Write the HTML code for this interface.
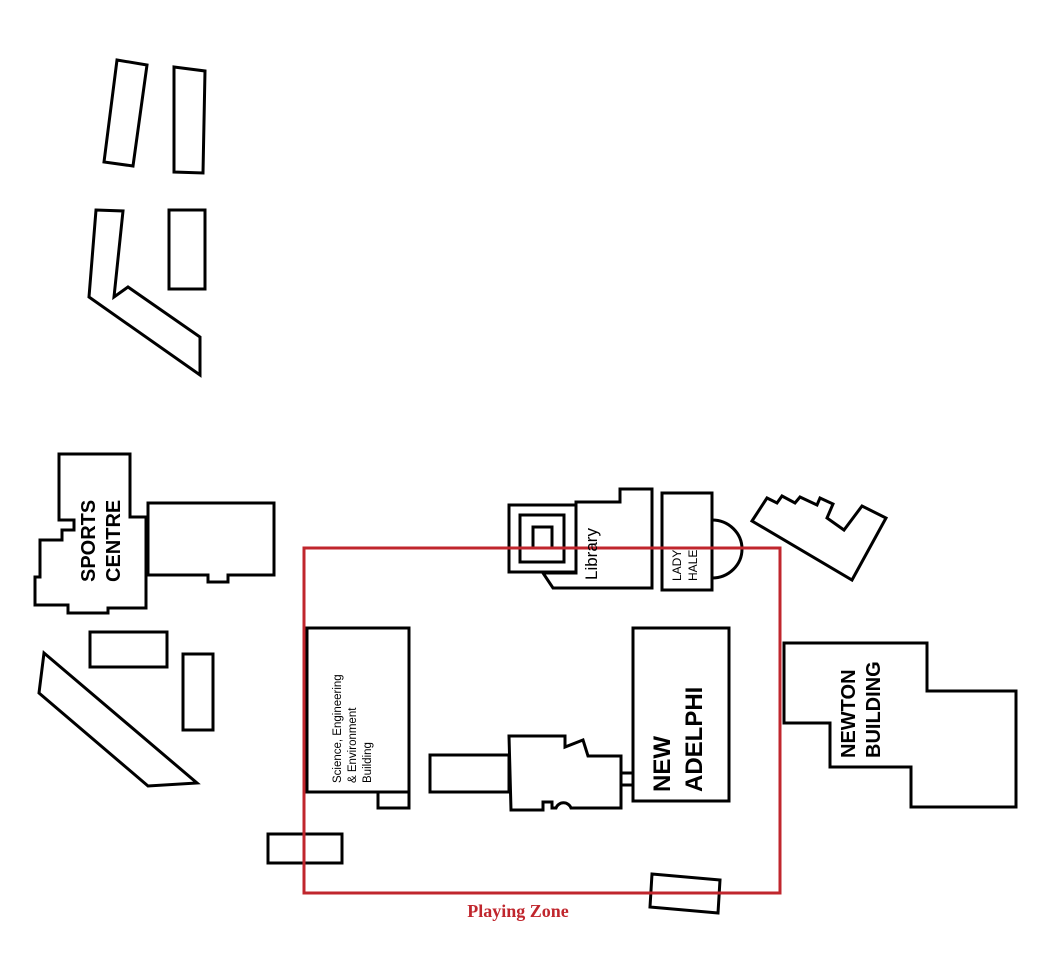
<!DOCTYPE html>
<html><head><meta charset="utf-8"><style>html,body{margin:0;padding:0;background:#fff}svg{display:block}</style></head>
<body>
<svg width="1060" height="969" viewBox="0 0 1060 969" xmlns="http://www.w3.org/2000/svg">
<g fill="none" stroke="#000" stroke-width="3" stroke-linejoin="miter">
<polygon points="117,60 147,65 133,166 104,162"/>
<polygon points="174,67 205,71 203,173 174,172"/>
<rect x="169" y="210" width="36" height="79"/>
<polygon points="96,210 123,211 114,297 128,287 200,337 200,375 89,297"/>
<polygon points="59,454 130,454 130,517 146,517 146,608 108,608 108,613 68,613 68,605 35,605 35,577 40,577 40,540 62,540 62,530 74,530 74,520 59,520"/>
<polygon points="148,503 274,503 274,575 228,575 228,582 208,582 208,575 148,575"/>
<rect x="90" y="632" width="77" height="35"/>
<rect x="183" y="654" width="30" height="76"/>
<polygon points="44,653 197,783 148,786 39,693"/>
<rect x="268" y="834" width="74" height="29"/>
<polygon points="652,874 720,880 718,913 650,907"/>
<rect x="509" y="505" width="67" height="67"/>
<rect x="520" y="515" width="44" height="47"/>
<rect x="533" y="527" width="19" height="21"/>
<polygon points="576,502 620,502 620,489 652,489 652,588 576,588 553,588 543,573 576,573"/>
<rect x="662" y="493" width="50" height="97"/>
<path d="M712,520 A30,29 0 0 1 712,578"/>
<polygon points="752,521 767,498 777,503 782,496 795,503 800,497 817,505 820,498 833,504 827,518 844,530 862,506 886,518 852,580"/>
<rect x="307" y="628" width="102" height="164"/>
<rect x="378" y="792" width="31" height="16"/>
<rect x="430" y="755" width="79" height="37"/>
<path d="M509,736 L565,736 L565,747 L583,740 L588,756 L621,756 L621,808 L571,808 A8,8 0 0 0 556,808 L552,808 L552,802 L543,802 L543,810 L511,810 Z"/>
<rect x="621" y="773" width="12" height="12"/>
<rect x="633" y="628" width="96" height="173"/>
<polygon points="784,643 927,643 927,691 1016,691 1016,807 911,807 911,767 830,767 830,723 784,723"/>
</g>
<rect x="304" y="548" width="476" height="345" fill="none" stroke="#c0262d" stroke-width="3"/>
<g font-family="Liberation Sans, Arial, sans-serif" fill="#000">
<text transform="translate(95,582) rotate(-90)" font-size="20" font-weight="bold">SPORTS</text>
<text transform="translate(120,582) rotate(-90)" font-size="20" font-weight="bold">CENTRE</text>
<text transform="translate(597,580) rotate(-90)" font-size="17">Library</text>
<text transform="translate(681,581) rotate(-90)" font-size="12">LADY</text>
<text transform="translate(697,581) rotate(-90)" font-size="12">HALE</text>
<text transform="translate(341,783) rotate(-90)" font-size="11.5">Science, Engineering</text>
<text transform="translate(356,783) rotate(-90)" font-size="11.5">&amp; Environment</text>
<text transform="translate(371,783) rotate(-90)" font-size="11.5">Building</text>
<text transform="translate(670,792) rotate(-90)" font-size="24" font-weight="bold">NEW</text>
<text transform="translate(702,792) rotate(-90)" font-size="24" font-weight="bold">ADELPHI</text>
<text transform="translate(855,758) rotate(-90)" font-size="20" font-weight="bold">NEWTON</text>
<text transform="translate(880,758) rotate(-90)" font-size="20" font-weight="bold">BUILDING</text>
</g>
<text x="518" y="917" text-anchor="middle" font-family="Liberation Serif, Times New Roman, serif" font-size="18" font-weight="bold" fill="#c0262d">Playing Zone</text>
</svg>
</body></html>
